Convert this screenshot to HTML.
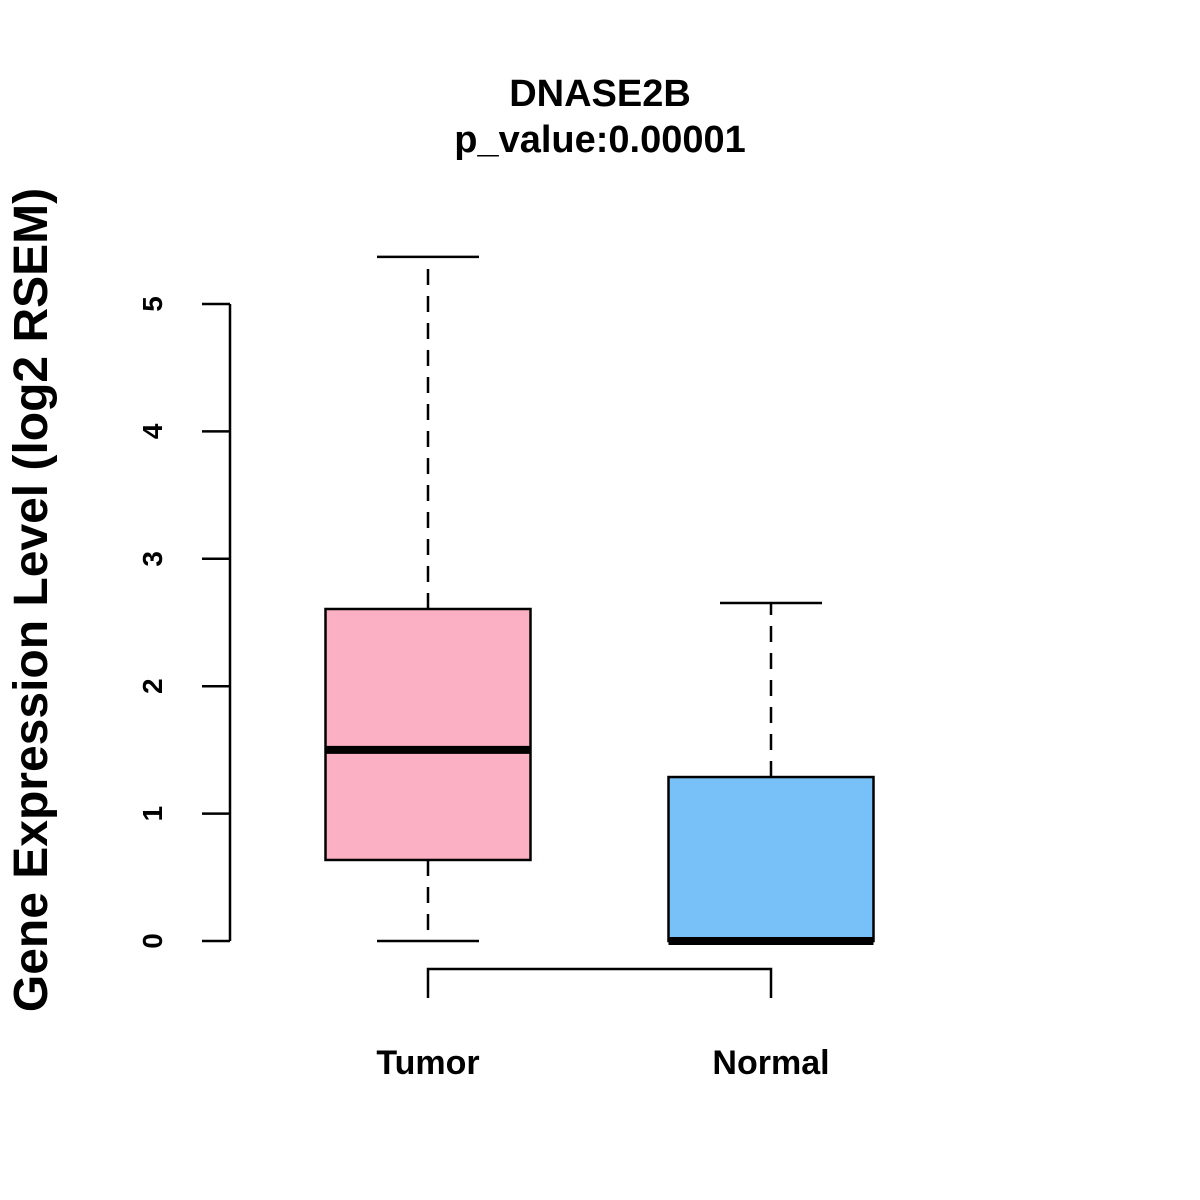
<!DOCTYPE html>
<html><head><meta charset="utf-8"><style>
body{margin:0;background:#fff}
svg{display:block;font-family:"Liberation Sans",Arial,sans-serif;font-weight:bold}
</style></head><body>
<svg id="chart" width="1200" height="1200" viewBox="0 0 1200 1200">
<rect width="1200" height="1200" fill="#fff"/>
<text x="600" y="106" font-size="38" text-anchor="middle">DNASE2B</text>
<text x="600" y="152" font-size="38" text-anchor="middle">p_value:0.00001</text>
<text transform="translate(47,600) rotate(-90)" font-size="48" text-anchor="middle">Gene Expression Level (log2 RSEM)</text>
<g id="axis"></g>
<g id="boxes"></g>
<g id="bracket"></g>
</svg>
<script>
const categories=["Tumor","Normal"];
const whiskerLow=[0,0];
const q1=[0.636,0];
const median=[1.50,0];
const q3=[2.606,1.287];
const whiskerHigh=[5.37,2.653];
const colors=["#FBB1C3","#78C1F8"];
const yTicks=[0,1,2,3,4,5];

const NS="http://www.w3.org/2000/svg";
const y=v=>941-v*127.4;
const xc=i=>428+i*343;
const halfW=102.5;
function mk(tag,attrs,parent){const e=document.createElementNS(NS,tag);for(const k in attrs)e.setAttribute(k,attrs[k]);parent.appendChild(e);return e;}
const ax=document.getElementById('axis');
mk('line',{x1:230,x2:230,y1:y(yTicks[yTicks.length-1]),y2:y(yTicks[0]),stroke:'#000','stroke-width':2.5},ax);
yTicks.forEach(t=>{
  const l=mk('line',{x1:202,x2:230,y1:y(t),y2:y(t),stroke:'#000','stroke-width':2.5},ax);
  
  
  const tx=mk('text',{transform:`translate(162,${y(t)}) rotate(-90)`,'font-size':28,'text-anchor':'middle'},ax);
  tx.textContent=t;
  
  
});
const bx=document.getElementById('boxes');
categories.forEach((c,i)=>{
  const g=mk('g',{},bx);
  
  
  const x=xc(i);
  mk('line',{x1:x,x2:x,y1:y(q3[i]),y2:y(whiskerHigh[i]),stroke:'#000','stroke-width':2.5,'stroke-dasharray':'16,11'},g);
  mk('line',{x1:x,x2:x,y1:y(q1[i]),y2:y(whiskerLow[i]),stroke:'#000','stroke-width':2.5,'stroke-dasharray':'16,11'},g);
  mk('line',{x1:x-51,x2:x+51,y1:y(whiskerHigh[i]),y2:y(whiskerHigh[i]),stroke:'#000','stroke-width':2.5},g);
  mk('line',{x1:x-51,x2:x+51,y1:y(whiskerLow[i]),y2:y(whiskerLow[i]),stroke:'#000','stroke-width':2.5},g);
  mk('rect',{x:x-halfW,y:y(q3[i]),width:2*halfW,height:y(q1[i])-y(q3[i]),fill:colors[i],stroke:'#000','stroke-width':2.5},g);
  mk('line',{x1:x-halfW,x2:x+halfW,y1:y(median[i]),y2:y(median[i]),stroke:'#000','stroke-width':8},g);
  const t=mk('text',{x:x,y:1074,'font-size':34,'text-anchor':'middle'},g);
  t.textContent=c;
  
  
});
const br=document.getElementById('bracket');
mk('path',{d:`M${xc(0)},998 V969 H${xc(1)} V998`,fill:'none',stroke:'#000','stroke-width':2.5},br);
</script>
</body></html>
